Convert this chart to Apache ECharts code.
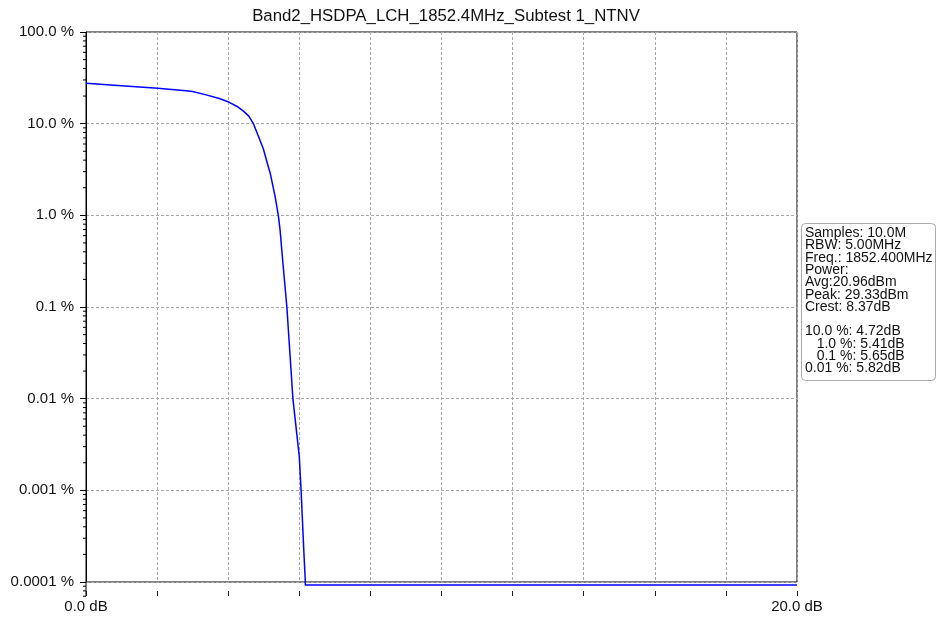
<!DOCTYPE html>
<html>
<head>
<meta charset="utf-8">
<script src="https://cdn.jsdelivr.net/npm/echarts@6/dist/echarts.min.js"></script>
<style>html,body{margin:0;padding:0;background:#fff}#c{width:938px;height:623px}</style>
</head>
<body>
<div id="c"></div>
<script>
// CCDF curve: level above average (dB) vs probability (%)
const levelDb = [0, 1, 2.02, 2.81, 3.0, 3.38, 3.75, 4.03, 4.25, 4.42, 4.58, 4.71, 4.85, 4.99, 5.1, 5.18, 5.32, 5.41, 5.46, 5.53, 5.65, 5.82, 6.0, 6.05, 6.13, 6.17, 6.17, 20];
const probPct = [27.6, 25.9, 24.3, 22.9, 22.4, 20.6, 18.8, 17.1, 15.4, 13.8, 12.1, 10.0, 7.3, 5.3, 3.7, 2.9, 1.6, 1.0, 0.69, 0.33, 0.1, 0.01, 0.00233, 0.001, 0.000206, 0.0001, 0.0000925, 0.0000925];
const yTickValues = [0.0001, 0.001, 0.01, 0.1, 1, 10, 100];
const yTickLabels = ['0.0001 %', '0.001 %', '0.01 %', '0.1 %', '1.0 %', '10.0 %', '100.0 %'];
const xLabelValues = [0, 20];
const xLabelTexts = ['0.0 dB', '20.0 dB'];
const minorTickValues = [];
[-5, -4, -3, -2, -1, 0, 1].forEach(function (e) {
  [2, 3, 4, 5, 6, 7, 8, 9].forEach(function (m) {
    const v = m * Math.pow(10, e);
    if (v > 0.00007 && v < 100) minorTickValues.push(+v.toPrecision(3));
  });
});
const axisExtLow = 0.00007;
const titleText = 'Band2_HSDPA_LCH_1852.4MHz_Subtest 1_NTNV';
const infoLines = ['Samples: 10.0M', 'RBW: 5.00MHz', 'Freq.: 1852.400MHz', 'Power:', 'Avg:20.96dBm', 'Peak: 29.33dBm', 'Crest: 8.37dB', '', '10.0 %: 4.72dB', '   1.0 %: 5.41dB', '   0.1 %: 5.65dB', '0.01 %: 5.82dB'];

const FONT = '"Liberation Sans", Arial, sans-serif';
const chart = echarts.init(document.getElementById('c'), null, {renderer: 'canvas'});
chart.setOption({
  animation: false,
  backgroundColor: '#fff',
  title: [{
    text: titleText,
    left: 441, top: 3, textAlign: 'center',
    textStyle: {fontFamily: FONT, fontSize: 16.8, fontWeight: 'normal', color: '#111'}
  }, {
    text: infoLines.join('\n'),
    left: 801, top: 224,
    backgroundColor: '#fff', borderColor: '#aaa', borderWidth: 1, borderRadius: 4,
    padding: [3, 3, 5, 4],
    textStyle: {fontFamily: FONT, fontSize: 14, lineHeight: 12.3, fontWeight: 'normal', color: '#111'}
  }],
  grid: {left: 86, right: 141, top: 32, bottom: 41, show: true, borderColor: '#000', borderWidth: 1, backgroundColor: 'transparent'},
  xAxis: {
    type: 'value', min: 0, max: 20, interval: 2, offset: 9,
    axisLine: {show: false},
    axisTick: {show: true, length: 5, lineStyle: {color: '#222'}},
    axisLabel: {
      margin: 8, color: '#111', fontFamily: FONT, fontSize: 15,
      formatter: function (v) { const i = xLabelValues.indexOf(v); return i >= 0 ? xLabelTexts[i] : ''; }
    },
    splitLine: {show: true, lineStyle: {color: '#aaa', type: [3, 2], width: 1}}
  },
  yAxis: {
    type: 'log', logBase: 10, min: 0.0001, max: 100, interval: 1,
    axisLine: {show: true, lineStyle: {color: '#000'}},
    axisTick: {show: true, length: 6, lineStyle: {color: '#000'}},
    axisLabel: {
      margin: 12, color: '#111', fontFamily: FONT, fontSize: 15,
      formatter: function (v) {
        for (let i = 0; i < yTickValues.length; i++) if (Math.abs(Math.log10(v) - Math.log10(yTickValues[i])) < 1e-6) return yTickLabels[i];
        return '';
      }
    },
    splitLine: {show: true, lineStyle: {color: '#aaa', type: [3, 2], width: 1}}
  },
  series: [{
    type: 'line', data: levelDb.map(function (x, i) { return [x, probPct[i]]; }),
    showSymbol: false, clip: false,
    lineStyle: {color: '#0000ff', width: 1.5, join: 'round'}, z: 5
  }, {
    type: 'custom', clip: false, z: 6,
    data: minorTickValues.map(function (v) { return [0, v]; }),
    encode: {x: 0, y: 1},
    renderItem: function (params, api) {
      const p = api.coord([0, api.value(1)]);
      return {type: 'line', shape: {x1: p[0] - 3, y1: p[1], x2: p[0], y2: p[1]}, style: {stroke: '#000', lineWidth: 1}};
    }
  }, {
    type: 'custom', clip: false, z: 6,
    data: [[0, axisExtLow]],
    encode: {x: 0, y: 1},
    renderItem: function (params, api) {
      const a = api.coord([0, 0.0001]);
      const b = api.coord([0, api.value(1)]);
      return {type: 'line', shape: {x1: a[0], y1: a[1], x2: b[0], y2: b[1]}, style: {stroke: '#000', lineWidth: 1}};
    }
  }]
});
</script>
</body>
</html>
